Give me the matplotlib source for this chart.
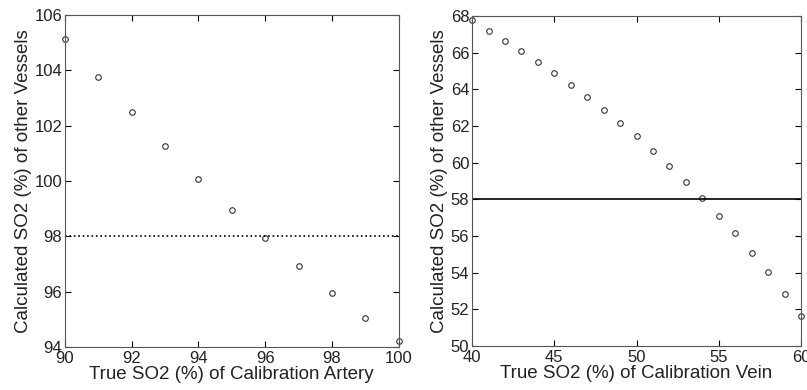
import matplotlib.pyplot as plt

artery_true = [90, 91, 92, 93, 94, 95, 96, 97, 98, 99, 100]
artery_calc = [105.12, 103.77, 102.49, 101.26, 100.08, 98.97, 97.93, 96.93, 95.95, 95.05, 94.21]
artery_ref = 98

vein_true = list(range(40, 61))
vein_calc = [67.76, 67.16, 66.65, 66.09, 65.51, 64.89, 64.24, 63.58, 62.89, 62.18, 61.44,
             60.65, 59.82, 58.95, 58.07, 57.11, 56.15, 55.09, 54.02, 52.84, 51.65]
vein_ref = 58


def style(ax):
    ax.tick_params(direction='in', top=True, right=True, labelsize=12, length=4,
                   labelcolor='#222222')
    ax.tick_params(axis='x', pad=3)
    ax.tick_params(axis='y', pad=2)
    for s in ax.spines.values():
        s.set_color('#555555')


def main():
    plt.rcParams['font.family'] = ['Liberation Sans', 'DejaVu Sans']
    fig = plt.figure(figsize=(8.07, 3.9), dpi=100)

    ax1 = fig.add_axes([0.0805, 0.110, 0.4135, 0.8515])
    ax1.plot(artery_true, artery_calc, 'o', mfc='none', mec='#333333', ms=4, mew=0.8, clip_on=False)
    ax1.axhline(artery_ref, color='black', linestyle=':', linewidth=1.2)
    ax1.set_xlim(90, 100)
    ax1.set_ylim(94, 106)
    ax1.set_xticks(range(90, 101, 2))
    ax1.set_yticks(range(94, 107, 2))
    ax1.set_xlabel('True SO2 (%) of Calibration Artery', fontsize=13.5, labelpad=0, color='#222222')
    ax1.set_ylabel('Calculated SO2 (%) of other Vessels', fontsize=13.5, labelpad=2, color='#222222')
    style(ax1)

    ax2 = fig.add_axes([0.585, 0.113, 0.4076, 0.846])
    ax2.plot(vein_true, vein_calc, 'o', mfc='none', mec='#333333', ms=4, mew=0.8, clip_on=False)
    ax2.axhline(vein_ref, color='black', linestyle='-', linewidth=1.2)
    ax2.set_xlim(40, 60)
    ax2.set_ylim(50, 68)
    ax2.set_xticks(range(40, 61, 5))
    ax2.set_yticks(range(50, 69, 2))
    ax2.set_xlabel('True SO2 (%) of Calibration Vein', fontsize=13.5, labelpad=0, color='#222222')
    ax2.set_ylabel('Calculated SO2 (%) of other Vessels', fontsize=13.5, labelpad=2, color='#222222')
    style(ax2)

    fig.savefig('out.png', dpi=100)


if __name__ == "__main__":
    main()
